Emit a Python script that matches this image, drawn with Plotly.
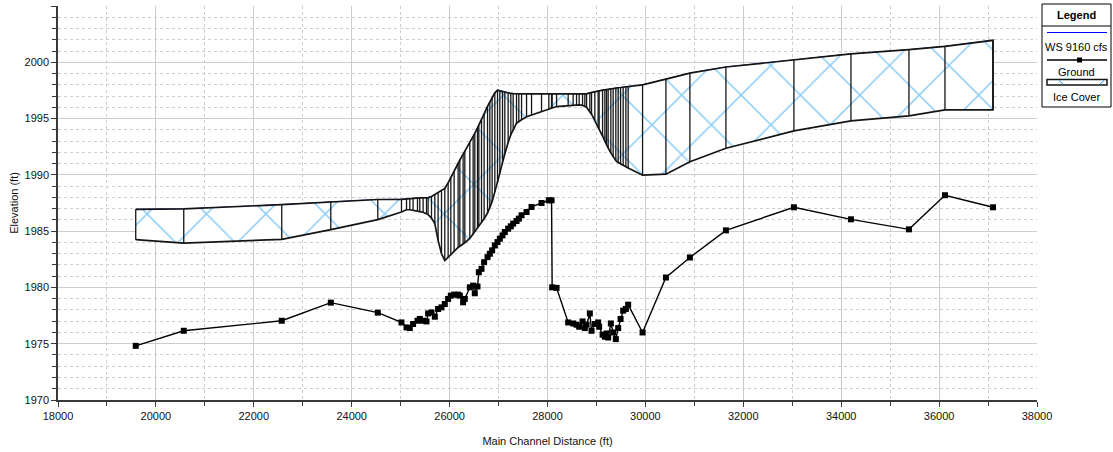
import plotly.graph_objects as go

# ---------------- data ----------------
station = [19588, 20569, 22571, 23573, 24533, 25017,
           25120, 25187, 25254, 25344, 25391, 25459, 25528, 25561,
           25630, 25698, 25765, 25835, 25902,
           25970, 26025, 26092, 26174, 26209, 26276, 26311,
           26413, 26481, 26515, 26570, 26597, 26652, 26705,
           26775, 26822, 26869, 26924, 26979, 27026, 27081, 27128, 27196, 27251, 27298,
           27367, 27414, 27470, 27572, 27674, 27878, 28027, 28083, 28095, 28185, 28422, 28524,
           28593, 28647, 28716, 28763, 28798,
           28865, 28900, 28967, 29035, 29055, 29125, 29172, 29206, 29239, 29294, 29341, 29396,
           29444, 29493, 29546, 29601, 29648,
           29942, 30419, 30909, 31645, 33034, 34199, 35384, 36120, 37101]

ground = [1974.81, 1976.15, 1977.04, 1978.65, 1977.76, 1976.89,
          1976.45, 1976.39, 1976.75, 1977.04, 1977.20, 1977.04, 1976.98, 1977.69,
          1977.78, 1977.40, 1978.09, 1978.23, 1978.53,
          1978.98, 1979.27, 1979.36, 1979.36, 1979.27, 1978.68, 1978.98,
          1980.01, 1980.16, 1979.48, 1980.08, 1981.35, 1981.65, 1982.24,
          1982.69, 1982.99, 1983.29, 1983.73, 1984.03, 1984.33, 1984.62, 1984.92, 1985.22, 1985.43, 1985.67,
          1985.90, 1986.11, 1986.41, 1986.70, 1987.15, 1987.50, 1987.74, 1987.74, 1980.01, 1979.96, 1976.89, 1976.80,
          1976.69, 1976.51, 1976.98, 1976.39, 1976.69,
          1977.69, 1976.15, 1976.75, 1976.89, 1976.51, 1975.80, 1975.62, 1975.91, 1975.55, 1976.80, 1976.00, 1975.41,
          1976.39, 1977.20, 1977.94, 1978.09, 1978.47,
          1976.00, 1980.88, 1982.66, 1985.07, 1987.12, 1986.05, 1985.16, 1988.19, 1987.12]

ws_9160 = [1986.94, 1986.97, 1987.36, 1987.59, 1987.81, 1987.83,
           1987.88, 1987.90, 1987.91, 1987.93, 1987.95, 1987.96, 1987.97, 1987.98,
           1988.08, 1988.25, 1988.43, 1988.61, 1988.79,
           1989.28, 1989.71, 1990.30, 1991.01, 1991.31, 1991.81, 1992.07,
           1992.84, 1993.38, 1993.68, 1994.17, 1994.40, 1994.88, 1995.41,
           1996.09, 1996.48, 1996.85, 1997.29, 1997.53, 1997.47, 1997.40, 1997.34, 1997.26, 1997.23, 1997.22,
           1997.20, 1997.20, 1997.20, 1997.20, 1997.20, 1997.20, 1997.20, 1997.20, 1997.20, 1997.20, 1997.20, 1997.20,
           1997.20, 1997.20, 1997.20, 1997.20, 1997.20,
           1997.28, 1997.32, 1997.40, 1997.46, 1997.47, 1997.52, 1997.55, 1997.58, 1997.61, 1997.64, 1997.68, 1997.72,
           1997.74, 1997.76, 1997.79, 1997.81, 1997.84,
           1998.00, 1998.50, 1999.04, 1999.58, 2000.23, 2000.74, 2001.12, 2001.42, 2001.95]

ice_bottom = [1984.24, 1983.94, 1984.27, 1985.13, 1986.02, 1986.70,
              1986.90, 1986.90, 1986.85, 1986.78, 1986.74, 1986.68, 1986.54, 1986.47,
              1986.16, 1985.67, 1984.18, 1982.99, 1982.39,
              1982.62, 1982.90, 1983.20, 1983.55, 1983.69, 1983.85, 1983.97,
              1984.35, 1984.69, 1984.92, 1985.28, 1985.45, 1985.78, 1986.10,
              1986.61, 1987.09, 1987.64, 1988.49, 1989.31, 1990.15, 1991.12, 1991.91, 1992.89, 1993.57, 1993.98,
              1994.59, 1994.73, 1994.90, 1995.16, 1995.31, 1995.62, 1995.84, 1995.92, 1995.94, 1996.07, 1996.15, 1996.17,
              1996.19, 1996.21, 1996.18, 1996.08, 1996.01,
              1995.59, 1995.39, 1994.87, 1994.29, 1994.10, 1993.45, 1992.99, 1992.65, 1992.39, 1991.95, 1991.59, 1991.25,
              1991.09, 1990.93, 1990.80, 1990.70, 1990.60,
              1989.97, 1990.06, 1991.16, 1992.36, 1993.90, 1994.79, 1995.24, 1995.77, 1995.77]

x_range = [18000, 38000]
y_range = [1970, 2005]
x_title = "Main Channel Distance (ft)"
y_title = "Elevation (ft)"
legend_title = "Legend"
legend_labels = ["WS 9160 cfs", "Ground", "Ice Cover"]

# ---------------- figure ----------------
W, H = 1113, 452
L, R, T, B = 58, 76, 6, 52
PW, PH = W - L - R, H - T - B

BLUE = "#0f96ee"
INK = "#151515"
FONT = "Liberation Sans Narrow, Arial Narrow, Liberation Sans, Arial, sans-serif"

fig = go.Figure()

fig.add_trace(go.Scatter(x=station, y=ws_9160, mode="lines",
                         line=dict(color="#0000ff", width=1), hoverinfo="skip", showlegend=False))

fig.add_trace(go.Scatter(x=station + station[::-1], y=ws_9160 + ice_bottom[::-1],
                         fill="toself", fillcolor="white",
                         fillpattern=dict(shape="x", fgcolor=BLUE, bgcolor="white",
                                          size=42, solidity=0.07),
                         mode="lines", line=dict(color=INK, width=1.7),
                         hoverinfo="skip", showlegend=False))

vx, vy = [], []
for s, t, b in zip(station, ws_9160, ice_bottom):
    vx += [s, s, None]
    vy += [b, t, None]
fig.add_trace(go.Scatter(x=vx, y=vy, mode="lines", line=dict(color=INK, width=1.3),
                         hoverinfo="skip", showlegend=False))

fig.add_trace(go.Scatter(x=station, y=ground, mode="lines+markers",
                         line=dict(color="black", width=1.4),
                         marker=dict(symbol="square", size=6, color="black"),
                         showlegend=False))

GRID = "#cdcdcd"
AX = "#3a3a3a"
TICKFONT = dict(family=FONT, size=11, color="#111")
fig.update_xaxes(range=x_range, tick0=18000, dtick=2000, tickformat="d",
                 showgrid=True, gridcolor=GRID, gridwidth=1,
                 showline=True, linecolor=AX, linewidth=1.5, ticks="outside", ticklen=5,
                 tickcolor=AX, zeroline=False,
                 minor=dict(dtick=1000, showgrid=True, gridcolor=GRID, griddash="3px,3px",
                            ticks="outside", ticklen=4, tickcolor=AX),
                 tickfont=TICKFONT,
                 title=dict(text=x_title, font=dict(family=FONT, size=11, color="#111"), standoff=16))
fig.update_yaxes(range=y_range, tick0=1970, dtick=5, tickformat="d",
                 showgrid=True, gridcolor=GRID, gridwidth=1,
                 showline=True, linecolor=AX, linewidth=1.5, ticks="outside", ticklen=5,
                 tickcolor=AX, zeroline=False,
                 minor=dict(dtick=1, showgrid=True, gridcolor=GRID, griddash="3px,3px",
                            ticks="outside", ticklen=4, tickcolor=AX),
                 tickfont=TICKFONT,
                 title=dict(text=y_title, font=dict(family=FONT, size=11, color="#111"), standoff=4))


def px(xp):
    return (xp - L) / PW


def py(yp):
    return (H - B - yp) / PH


shapes = [
    dict(type="rect", xref="paper", yref="paper", x0=px(1042), x1=px(1111), y0=py(4), y1=py(107),
         line=dict(color="black", width=1), fillcolor="white", layer="above"),
    dict(type="line", xref="paper", yref="paper", x0=px(1042), x1=px(1111), y0=py(26), y1=py(26),
         line=dict(color="black", width=1)),
    dict(type="line", xref="paper", yref="paper", x0=px(1047), x1=px(1107), y0=py(32.5), y1=py(32.5),
         line=dict(color="#0000ff", width=1.2)),
    dict(type="line", xref="paper", yref="paper", x0=px(1047), x1=px(1107), y0=py(60), y1=py(60),
         line=dict(color="black", width=1.4)),
    dict(type="rect", xref="paper", yref="paper", x0=px(1077), x1=px(1082), y0=py(57.5), y1=py(62.5),
         line=dict(color="black", width=0), fillcolor="black"),
    dict(type="rect", xref="paper", yref="paper", x0=px(1047), x1=px(1107), y0=py(79.5), y1=py(85),
         line=dict(color=INK, width=1.5), fillcolor="white"),
    dict(type="line", xref="paper", yref="paper", x0=px(1059), x1=px(1063), y0=py(80.5), y1=py(84),
         line=dict(color=BLUE, width=1)),
    dict(type="line", xref="paper", yref="paper", x0=px(1100), x1=px(1104), y0=py(84), y1=py(80.5),
         line=dict(color=BLUE, width=1)),
]

LEGFONT = dict(family=FONT, size=11, color="black")
annotations = [
    dict(xref="paper", yref="paper", x=px(1076.5), y=py(15), text="<b>%s</b>" % legend_title,
         showarrow=False, font=LEGFONT, xanchor="center", yanchor="middle"),
    dict(xref="paper", yref="paper", x=px(1076.5), y=py(46.5), text=legend_labels[0],
         showarrow=False, font=LEGFONT, xanchor="center", yanchor="middle"),
    dict(xref="paper", yref="paper", x=px(1076.5), y=py(71.5), text=legend_labels[1],
         showarrow=False, font=LEGFONT, xanchor="center", yanchor="middle"),
    dict(xref="paper", yref="paper", x=px(1076.5), y=py(96.5), text=legend_labels[2],
         showarrow=False, font=LEGFONT, xanchor="center", yanchor="middle"),
]

fig.update_layout(width=W, height=H, margin=dict(l=L, r=R, t=T, b=B, autoexpand=False),
                  paper_bgcolor="white", plot_bgcolor="white", showlegend=False,
                  shapes=shapes, annotations=annotations,
                  font=dict(family=FONT, size=11, color="#111"))

fig.write_html("out.html")
